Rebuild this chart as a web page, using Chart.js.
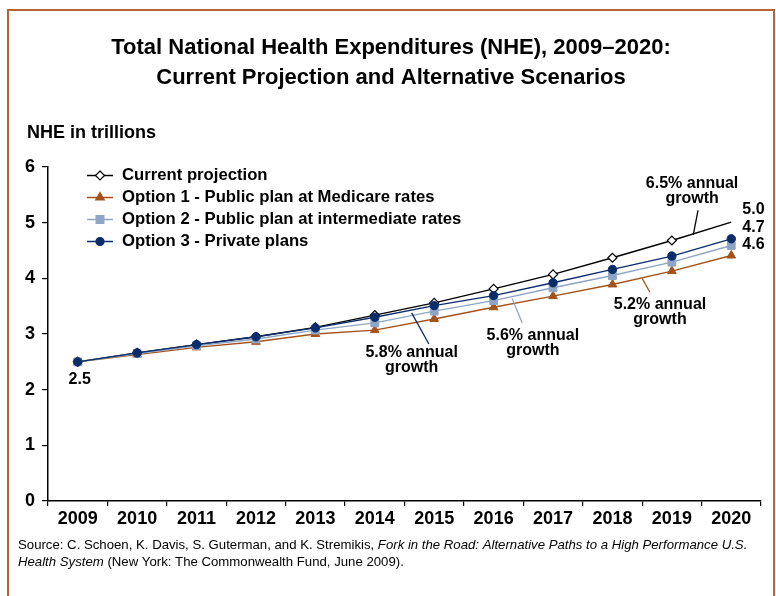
<!DOCTYPE html>
<html>
<head>
<meta charset="utf-8">
<title>Total National Health Expenditures (NHE), 2009–2020</title>
<script src="https://cdn.jsdelivr.net/npm/chart.js@4.4.1/dist/chart.umd.min.js"></script>
<style>
  html, body { margin: 0; padding: 0; background: #fff; }
  #wrap { width: 776px; height: 596px; }
</style>
</head>
<body>
<div id="wrap"><canvas id="nheChart" width="776" height="596"></canvas></div>
<script>
// NHE in trillions of dollars
const years = ['2009', '2010', '2011', '2012', '2013', '2014', '2015', '2016', '2017', '2018', '2019', '2020'];
const currentProjection = [2.50, 2.66, 2.81, 2.95, 3.12, 3.34, 3.56, 3.81, 4.07, 4.37, 4.68, 5.01];
const option1Medicare = [2.50, 2.63, 2.76, 2.86, 3.00, 3.07, 3.27, 3.48, 3.68, 3.89, 4.13, 4.41];
const option2Intermediate = [2.50, 2.65, 2.79, 2.91, 3.07, 3.20, 3.41, 3.60, 3.83, 4.05, 4.29, 4.59];
const option3Private = [2.50, 2.66, 2.81, 2.95, 3.11, 3.30, 3.51, 3.69, 3.92, 4.16, 4.40, 4.71];
const yTicks = [0, 1, 2, 3, 4, 5, 6];

const FONT = "'Liberation Sans', Arial, Helvetica, sans-serif";
const BLACK = '#000000';
const BROWN = '#A4521B';
const LIGHT_BLUE = '#8EA5C5';
const NAVY = '#0B2D6B';
const FRAME = '#B5662E';

/**
 * Draw a small marker (used for the legend symbols)
 */
function drawMarker(ctx, style, x, y, r, fill, stroke) {
    ctx.save();
    ctx.beginPath();
    if (style === 'rectRot') {
        ctx.moveTo(x, y - r);
        ctx.lineTo(x + r, y);
        ctx.lineTo(x, y + r);
        ctx.lineTo(x - r, y);
        ctx.closePath();
    } else if (style === 'triangle') {
        ctx.moveTo(x, y - r);
        ctx.lineTo(x + r * 0.866, y + r * 0.5);
        ctx.lineTo(x - r * 0.866, y + r * 0.5);
        ctx.closePath();
    } else if (style === 'rect') {
        const s = r * Math.SQRT1_2;
        ctx.rect(x - s, y - s, 2 * s, 2 * s);
    } else {
        ctx.arc(x, y, r, 0, Math.PI * 2);
    }
    ctx.fillStyle = fill;
    ctx.fill();
    ctx.lineWidth = 1.2;
    ctx.strokeStyle = stroke;
    ctx.stroke();
    ctx.restore();
}

// Growth-rate callouts: text anchor and leader line, in (category index, value) units
const growthNotes = [
    { lines: ['6.5% annual', 'growth'], color: BLACK, at: [10.34, 5.71], from: [10.44, 5.22], to: [10.36, 4.78] },
    { lines: ['5.8% annual', 'growth'], color: NAVY, at: [5.62, 2.66], from: [5.62, 3.38], to: [5.91, 2.82] },
    { lines: ['5.6% annual', 'growth'], color: LIGHT_BLUE, at: [7.66, 2.98], from: [7.31, 3.64], to: [7.48, 3.20] },
    { lines: ['5.2% annual', 'growth'], color: BROWN, at: [9.80, 3.52], from: [9.50, 4.00], to: [9.63, 3.75] }
];

/**
 * Titles, legend, callouts, value labels, source note and frame
 */
const decorations = {
    id: 'decorations',
    beforeDraw(chart) {
        const ctx = chart.ctx;
        ctx.save();
        ctx.fillStyle = '#ffffff';
        ctx.fillRect(0, 0, chart.width, chart.height);
        ctx.restore();
    },
    afterDraw(chart) {
        const ctx = chart.ctx;
        const xs = chart.scales.x;
        const ys = chart.scales.y;
        const at = (i, v) => ({ x: xs.getPixelForValue(i), y: ys.getPixelForValue(v) });

        ctx.save();

        // Title
        ctx.fillStyle = BLACK;
        ctx.textAlign = 'center';
        ctx.textBaseline = 'middle';
        ctx.font = `bold 22px ${FONT}`;
        ctx.fillText('Total National Health Expenditures (NHE), 2009–2020:', 391, 48);
        ctx.fillText('Current Projection and Alternative Scenarios', 391, 78);

        // Axis title
        ctx.textAlign = 'left';
        ctx.font = `bold 18px ${FONT}`;
        ctx.fillText('NHE in trillions', 27, 133);

        // Legend
        ctx.font = `bold 16.7px ${FONT}`;
        chart.data.datasets.forEach((ds, i) => {
            const y = 175.5 + i * 22;
            ctx.beginPath();
            ctx.moveTo(87, y);
            ctx.lineTo(113, y);
            ctx.lineWidth = 1.5;
            ctx.strokeStyle = ds.borderColor;
            ctx.stroke();
            drawMarker(ctx, ds.pointStyle, 100, y, ds.legendRadius, ds.pointBackgroundColor, ds.pointBorderColor);
            ctx.fillStyle = BLACK;
            ctx.fillText(ds.label, 122, y);
        });

        // Growth callouts
        ctx.textAlign = 'center';
        ctx.font = `bold 16px ${FONT}`;
        growthNotes.forEach(note => {
            const p = at(note.at[0], note.at[1]);
            ctx.fillStyle = BLACK;
            ctx.fillText(note.lines[0], p.x, p.y);
            ctx.fillText(note.lines[1], p.x, p.y + 15);
            const a = at(note.from[0], note.from[1]);
            const b = at(note.to[0], note.to[1]);
            ctx.beginPath();
            ctx.moveTo(a.x, a.y);
            ctx.lineTo(b.x, b.y);
            ctx.lineWidth = 1.3;
            ctx.strokeStyle = note.color;
            ctx.stroke();
        });

        // Value labels
        ctx.fillStyle = BLACK;
        ctx.font = `bold 16px ${FONT}`;
        const first = at(0, currentProjection[0]);
        ctx.fillText(currentProjection[0].toFixed(1), first.x + 2, first.y + 18);
        const last = years.length - 1;
        const lx = at(last, 0).x + 11;
        ctx.textAlign = 'left';
        ctx.fillText(currentProjection[last].toFixed(1), lx, 210);
        ctx.fillText(option3Private[last].toFixed(1), lx, 228);
        ctx.fillText(option2Intermediate[last].toFixed(1), lx, 245);

        // Source note
        const segs1 = [
            ['Source: C. Schoen, K. Davis, S. Guterman, and K. Stremikis, ', false],
            ['Fork in the Road: Alternative Paths to a High Performance U.S.', true]
        ];
        const segs2 = [
            ['Health System', true],
            [' (New York: The Commonwealth Fund, June 2009).', false]
        ];
        [[segs1, 545], [segs2, 562]].forEach(([segs, y]) => {
            let x = 18;
            segs.forEach(([txt, italic]) => {
                ctx.font = `${italic ? 'italic ' : ''}13.2px ${FONT}`;
                ctx.fillText(txt, x, y);
                x += ctx.measureText(txt).width;
            });
        });

        // Frame
        ctx.beginPath();
        ctx.rect(8, 10, 766, 600);
        ctx.lineWidth = 2;
        ctx.strokeStyle = FRAME;
        ctx.stroke();

        ctx.restore();
    }
};

const lastIndex = years.length - 1;

new Chart(document.getElementById('nheChart'), {
    type: 'line',
    data: {
        labels: years,
        datasets: [
            {
                label: 'Current projection',
                data: currentProjection,
                borderColor: BLACK,
                borderWidth: 1.4,
                pointStyle: 'rectRot',
                pointRadius: ctx => (ctx.dataIndex === lastIndex ? 0 : 4.5),
                pointBackgroundColor: '#ffffff',
                pointBorderColor: BLACK,
                pointBorderWidth: 1.2,
                legendRadius: 4.5,
                order: 4
            },
            {
                label: 'Option 1 - Public plan at Medicare rates',
                data: option1Medicare,
                borderColor: BROWN,
                borderWidth: 1.4,
                pointStyle: 'triangle',
                pointRadius: 5,
                pointBackgroundColor: BROWN,
                pointBorderColor: BROWN,
                pointBorderWidth: 1,
                legendRadius: 5,
                order: 3
            },
            {
                label: 'Option 2 - Public plan at intermediate rates',
                data: option2Intermediate,
                borderColor: LIGHT_BLUE,
                borderWidth: 1.4,
                pointStyle: 'rect',
                pointRadius: 5.5,
                pointBackgroundColor: LIGHT_BLUE,
                pointBorderColor: LIGHT_BLUE,
                pointBorderWidth: 1,
                legendRadius: 5.5,
                order: 2
            },
            {
                label: 'Option 3 - Private plans',
                data: option3Private,
                borderColor: NAVY,
                borderWidth: 1.4,
                pointStyle: 'circle',
                pointRadius: 4.2,
                pointBackgroundColor: NAVY,
                pointBorderColor: NAVY,
                pointBorderWidth: 1,
                legendRadius: 4,
                order: 1
            }
        ]
    },
    options: {
        responsive: false,
        animation: false,
        layout: {
            padding: { top: 167, left: 0, right: 15, bottom: 65 }
        },
        plugins: {
            legend: { display: false },
            title: { display: false },
            tooltip: { enabled: false }
        },
        scales: {
            x: {
                offset: true,
                afterFit: scale => { scale.height = 30; },
                grid: {
                    offset: true,
                    drawOnChartArea: false,
                    drawTicks: true,
                    tickLength: 5,
                    color: BLACK,
                    lineWidth: 1.2
                },
                border: { display: true, color: BLACK, width: 1.5 },
                ticks: {
                    color: BLACK,
                    padding: 2,
                    maxRotation: 0,
                    autoSkip: false,
                    font: { family: FONT, size: 18, weight: 'bold' }
                }
            },
            y: {
                min: yTicks[0],
                max: yTicks[yTicks.length - 1],
                afterFit: scale => { scale.width = 48; },
                afterBuildTicks: scale => { scale.ticks = yTicks.map(v => ({ value: v })); },
                grid: {
                    drawOnChartArea: false,
                    drawTicks: true,
                    tickLength: 6,
                    color: BLACK,
                    lineWidth: 1.2
                },
                border: { display: true, color: BLACK, width: 1.5 },
                ticks: {
                    color: BLACK,
                    padding: 7,
                    font: { family: FONT, size: 18, weight: 'bold' }
                }
            }
        }
    },
    plugins: [decorations]
});
</script>
</body>
</html>
